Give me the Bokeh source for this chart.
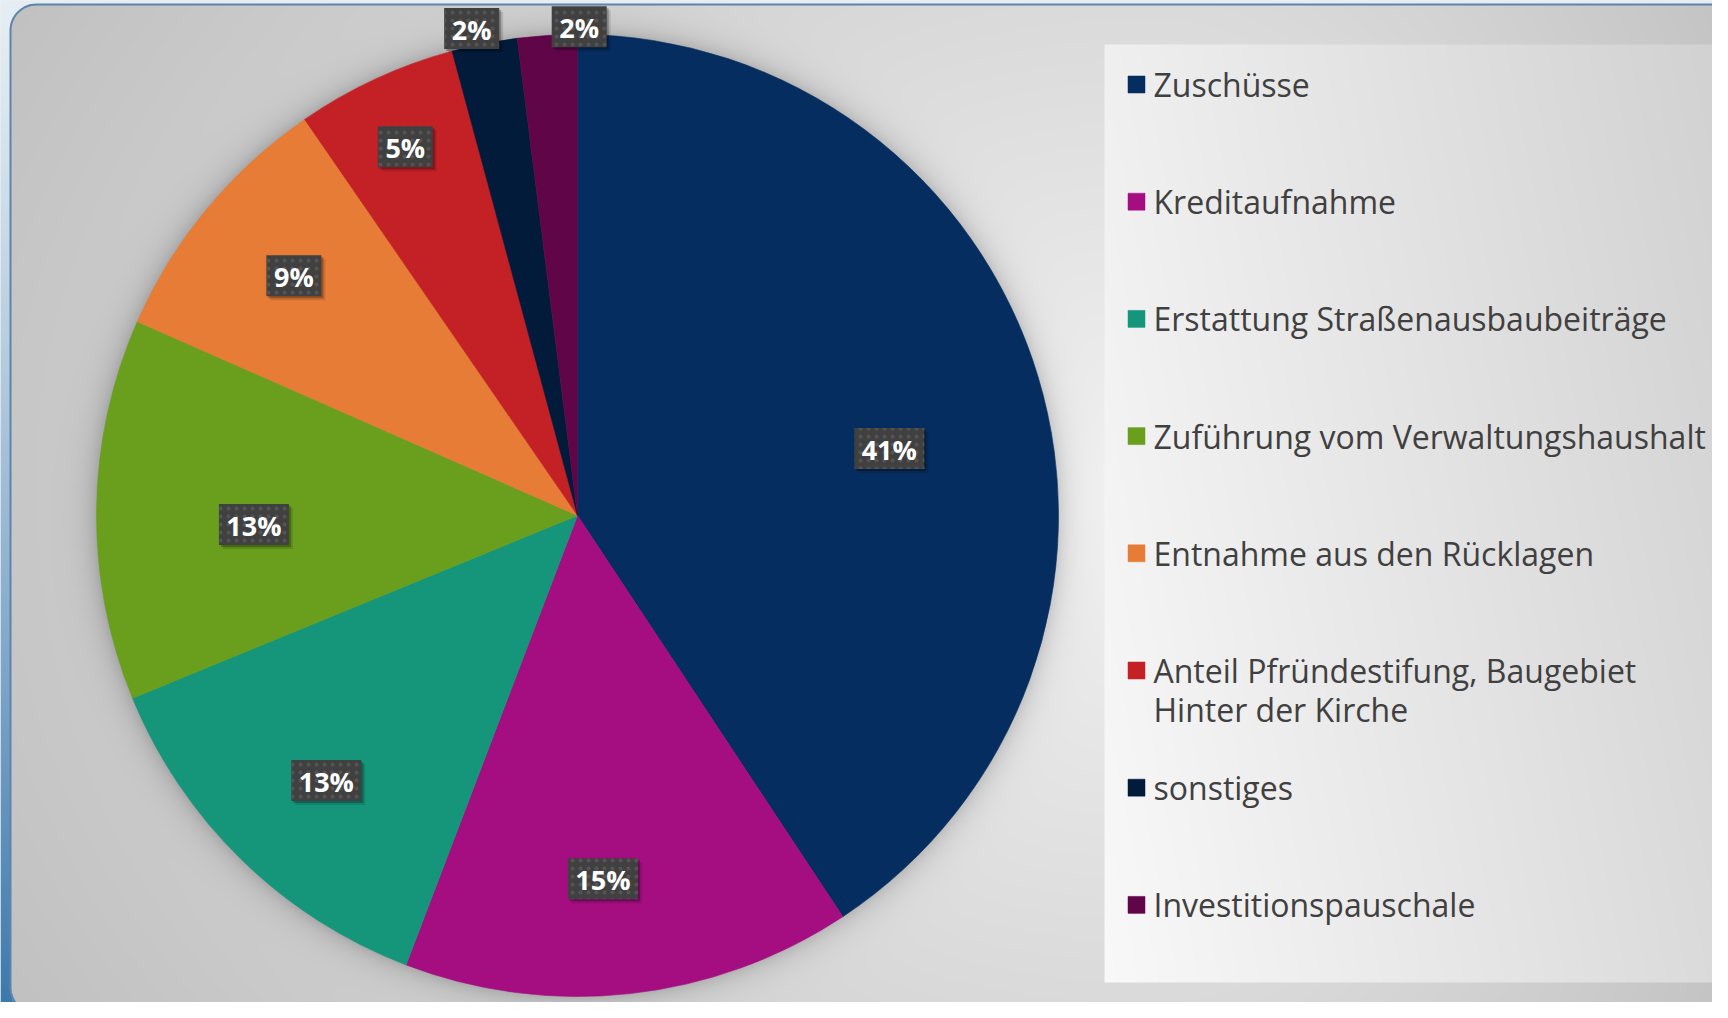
import numpy as np
from bokeh.plotting import figure
from bokeh.models import Range1d, ColumnDataSource
from bokeh.core.properties import value
from bokeh.embed import file_html
from bokeh.resources import INLINE

# ---------------- data ----------------
categories = [
    "Zuschüsse",
    "Kreditaufnahme",
    "Erstattung Straßenausbaubeiträge",
    "Zuführung vom Verwaltungshaushalt",
    "Entnahme aus den Rücklagen",
    "Anteil Pfründestifung, Baugebiet\nHinter der Kirche",
    "sonstiges",
    "Investitionspauschale",
]
shares = [40.7, 15.1, 13.0, 12.8, 8.8, 5.4, 2.2, 2.0]
colors = ["#052d5f", "#a40e81", "#15967b", "#6a9f1e", "#e67c36", "#c42126", "#021b3b", "#610549"]

# label placement (Excel "best fit" look): radius factor and angular nudge (deg)
label_rfac = [0.663, 0.757, 0.759, 0.673, 0.772, 0.846, 1.036, 1.016]
label_nudge = [4.6, 2.3, -0.8, -2.3, 0.6, -0.2, -1.1, 3.8]

# ---------------- geometry (reference pixel coordinates, y flipped) ----------------
PW, PH = 1728, 1018
W, H = PW - 16, PH - 16
def fy(Y):
    return PH - Y

CX, CY, R = 577.0, 515.0, 481.0

p = figure(width=W, height=H, x_range=Range1d(0, W), y_range=Range1d(PH - H, PH),
           x_axis_type=None, y_axis_type=None, toolbar_location=None,
           output_backend="svg", min_border=0, outline_line_color=None,
           background_fill_color="#dddddd", border_fill_color="#ffffff")
p.grid.visible = False

# ---------------- background image (gradients, pie shadow, legend panel) ----------------
S = 2
nw, nh = W // S, H // S
xs = (np.arange(nw) + 0.5) * S
yd = (PH - H) + (np.arange(nh) + 0.5) * S
X, Y = np.meshgrid(xs, PH - yd)

dx = X - 1150.0
dy = Y - 500.0
nx = np.where(dx < 0, dx / 1150.0, dx / 620.0)
ny = dy / 900.0
d = np.sqrt(nx ** 2 + ny ** 2)
g = 0.95 - 0.17 * np.clip(d, 0, 1.3)

dist = np.sqrt((X - CX) ** 2 + (Y - CY) ** 2) - R
g = g - 0.14 * np.exp(-np.clip(dist, 0, None) / 12.0)

panel = (X >= 1105) & (Y >= 45) & (Y <= 981)
gp = 0.975 - 0.12 * (X - 1105) / 623.0 - 0.035 * (981 - Y) / 936.0
g = np.where(panel, gp, g)

rr = np.clip(np.stack([g, g, g], axis=-1), 0, 1)

# frame: rounded rectangle, outside = bluish slide background
FL, FT, FR, FB, FRAD = 10.0, 4.0, 1745.0, 1013.0, 26.0
qx = np.clip(X, FL + FRAD, FR - FRAD)
qy = np.clip(Y, FT + FRAD, FB - FRAD)
inside = ((X - qx) ** 2 + (Y - qy) ** 2 <= FRAD ** 2) & (X >= FL) & (X <= FR) & (Y >= FT) & (Y <= FB)
t = np.clip(Y / PH, 0, 1) ** 1.2
c0 = np.array([0xe6, 0xee, 0xf5]) / 255.0
c1 = np.array([0x3a, 0x77, 0xac]) / 255.0
blue = c0[None, None, :] * (1 - t[..., None]) + c1[None, None, :] * t[..., None]
rgb = np.where(inside[..., None], rr, blue)

img = np.empty((nh, nw), dtype=np.uint32)
view = img.view(dtype=np.uint8).reshape((nh, nw, 4))
view[..., 0] = (rgb[..., 0] * 255).astype(np.uint8)
view[..., 1] = (rgb[..., 1] * 255).astype(np.uint8)
view[..., 2] = (rgb[..., 2] * 255).astype(np.uint8)
view[..., 3] = 255
p.image_rgba(image=[img], x=0, y=PH - H, dw=W, dh=H)

# frame outline
def rounded_path(l, t_, r, b, rad, n=16):
    pts = []
    for (cx_, cy_, a0) in [(r - rad, t_ + rad, -90), (r - rad, b - rad, 0), (l + rad, b - rad, 90), (l + rad, t_ + rad, 180)]:
        for a in np.linspace(a0, a0 + 90, n):
            ar = np.radians(a)
            pts.append((cx_ + rad * np.cos(ar), cy_ + rad * np.sin(ar)))
    pts.append(pts[0])
    return [q[0] for q in pts], [fy(q[1]) for q in pts]
bx, by = rounded_path(FL, FT, FR, FB, FRAD)
p.line(bx, by, line_color="#5f84aa", line_width=2)

# ---------------- pie ----------------
frac = np.array(shares) / np.sum(shares)
cum = np.concatenate([[0.0], np.cumsum(frac)])
start = np.pi / 2 - cum[:-1] * 2 * np.pi
end = np.pi / 2 - cum[1:] * 2 * np.pi
pie_src = ColumnDataSource(dict(start=start, end=end, color=colors))
p.wedge(x=CX, y=fy(CY), radius=R, start_angle="start", end_angle="end", direction="clock",
        fill_color="color", line_color="color", line_width=0.6, source=pie_src)

# ---------------- data labels ----------------
mid = (cum[:-1] + cum[1:]) / 2 * 360.0 + np.array(label_nudge)
th = np.radians(mid)
rf = np.array(label_rfac)
lx = CX + R * rf * np.sin(th)
ly = fy(CY) + R * rf * np.cos(th)
ltxt = [f"{round(s)}%" for s in shares]
lw = [25 + 15 * len(s) for s in ltxt]
lab = ColumnDataSource(dict(x=lx, y=ly, t=ltxt, w=lw, xs1=lx + 2, ys1=ly - 2, xs2=lx + 4, ys2=ly - 4))
p.rect(x="xs2", y="ys2", width="w", height=41, width_units="screen", height_units="screen",
       fill_color="black", fill_alpha=0.12, line_color=None, source=lab)
p.rect(x="xs1", y="ys1", width="w", height=41, width_units="screen", height_units="screen",
       fill_color="black", fill_alpha=0.25, line_color=None, source=lab)
p.rect(x="x", y="y", width="w", height=41, width_units="screen", height_units="screen",
       fill_color="#404040", line_color=None, hatch_pattern="dot", hatch_color="#545454",
       hatch_scale=8, hatch_weight=1.2, source=lab)
p.text(x="x", y="y", text="t", text_font=value("Open Sans"), text_font_style="bold",
       text_font_size="27px", text_color="white", text_align="center", text_baseline="middle",
       y_offset=1, source=lab)

# ---------------- legend ----------------
ROW0, ROWSTEP, LINEH = 84.0, 117.2, 38.6
SQX, TXX = 1136.0, 1153.0
sq_y = [fy(ROW0 + i * ROWSTEP) for i in range(len(categories))]
p.scatter(x=[SQX] * len(categories), y=sq_y, marker="square", size=17, fill_color=colors,
          line_color=colors, line_width=0.5)
tx, ty, tt = [], [], []
for i, c in enumerate(categories):
    for k, line in enumerate(c.split("\n")):
        tx.append(TXX)
        ty.append(fy(ROW0 + i * ROWSTEP + k * LINEH))
        tt.append(line)
p.text(x=tx, y=ty, text=tt, text_font=value("Open Sans"), text_font_size="32px",
       text_color="#404040", text_align="left", text_baseline="middle")

open("out.html", "w").write(file_html(p, INLINE))
